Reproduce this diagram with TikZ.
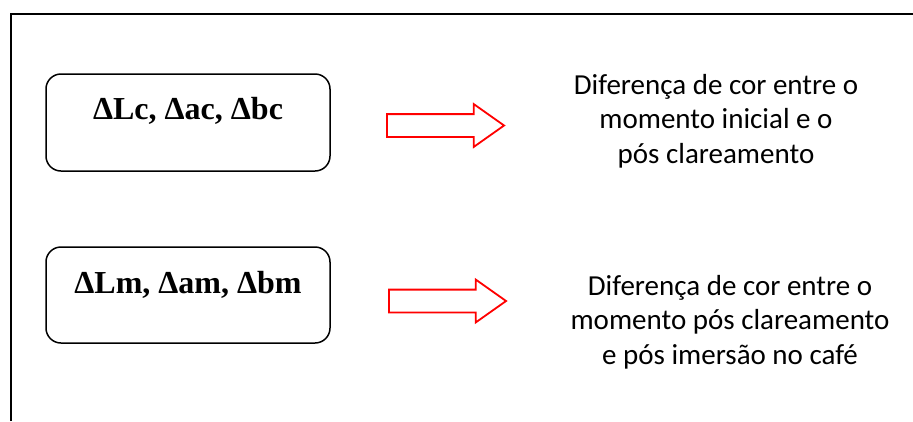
\documentclass[tikz,border=0pt]{standalone}
\usepackage{fontspec}
\setmainfont{Liberation Serif}
\newfontfamily\calibrifont{Carlito}
\usetikzlibrary{shapes.arrows}
\begin{document}
\begin{tikzpicture}[x=1pt,y=-1pt,
  framestyle/.style={line width=2pt,black},
  varbox/.style={draw,line width=1.5pt,rounded corners=15pt,minimum width=284pt,inner sep=0pt,
    font=\fontsize{32}{36}\selectfont\bfseries},
  redarrow/.style={single arrow,draw=red,line width=1.8pt,fill=white,inner xsep=0pt,inner ysep=10.5pt,
    minimum height=117pt,single arrow head extend=10pt,single arrow tip angle=70.5},
  desc/.style={anchor=north,align=center,inner sep=0pt,font=\calibrifont\fontsize{29}{34.5}\selectfont}]
\useasboundingbox (0,0) rectangle (913,421);
\coordinate (fbl) at (11,421);
\coordinate (ftl) at (11,14);
\coordinate (ftr) at (913,14);
\draw[framestyle] (fbl) -- (ftl) -- (ftr);
\node[varbox,text height=45pt,text depth=52pt] (b1) at (188,122.5) {ΔLc, Δac, Δbc};
\node[varbox,text height=46pt,text depth=50pt] (b2) at (188,295) {ΔLm, Δam, Δbm};
\node[redarrow] (a1) at (437.5,125.5) {};
\node[redarrow] (a2) at (439.5,301) {};
\node[desc] (t1) at (716,74) {Diferença de cor entre o\\momento inicial e o\\pós clareamento};
\node[desc] (t2) at (730,275) {Diferença de cor entre o\\momento pós clareamento\\e pós imersão no café};
\end{tikzpicture}
\end{document}
